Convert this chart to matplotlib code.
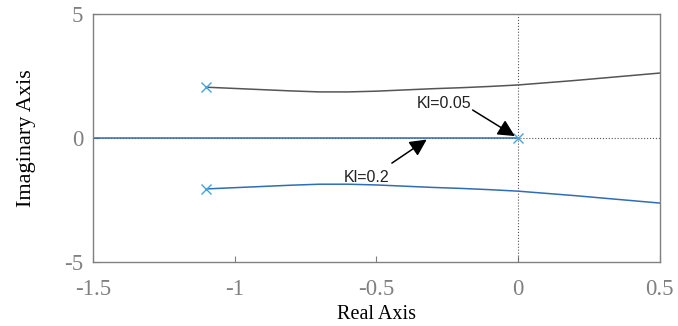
import matplotlib
matplotlib.use("Agg")
import matplotlib.pyplot as plt

plt.rcParams["axes.unicode_minus"] = False

# root locus branches
x_branch = [-1.1, -1.0, -0.9, -0.8, -0.7, -0.6, -0.5, -0.4, -0.3, -0.2, -0.1, 0.0, 0.1, 0.2, 0.3, 0.4, 0.5]
y_upper = [2.05, 2.0, 1.95, 1.9, 1.86, 1.86, 1.89, 1.94, 1.99, 2.03, 2.08, 2.14, 2.23, 2.32, 2.42, 2.52, 2.62]
y_lower = [-v for v in y_upper]
x_real = [-1.5, 0.0]
y_real = [0.0, 0.0]
poles_x = [-1.1, -1.1, 0.0]
poles_y = [2.05, -2.05, 0.0]

grey = "#808080"

fig = plt.figure(figsize=(6.78, 3.26), dpi=100)
ax = fig.add_axes([0.137, 0.196, 0.836, 0.761])

ax.axvline(0, color="#555555", ls=":", lw=0.8)
ax.axhline(0, color="#555555", ls=":", lw=0.8)
ax.plot(x_branch, y_upper, color="#555555", lw=1.1)
ax.plot(x_branch, y_lower, color="#2f6db5", lw=1.1)
ax.plot(x_real, y_real, color="#2f6db5", lw=1.1)
ax.plot(poles_x, poles_y, ls="none", marker="x", color="#4aa3d8", ms=7, mew=1)

arrow = dict(arrowstyle="-|>,head_length=0.6,head_width=0.3", color="black", lw=1.1,
             mutation_scale=17, shrinkA=0, shrinkB=0)
ax.annotate("", xy=(-0.011, 0.08), xytext=(-0.16, 1.13), arrowprops=arrow)
ax.text(-0.262, 1.41, "Kl=0.05", fontsize=11.5, family="Liberation Sans",
        color="#222222", ha="center", va="center")
ax.annotate("", xy=(-0.322, -0.06), xytext=(-0.445, -1.01), arrowprops=arrow)
ax.text(-0.534, -1.57, "Kl=0.2", fontsize=11.5, family="Liberation Sans",
        color="#222222", ha="center", va="center")

ax.set_xlim(-1.5, 0.5)
ax.set_ylim(-5, 5)
ax.set_xticks([-1.5, -1, -0.5, 0, 0.5])
ax.set_xticklabels(["-1.5", "-1", "-0.5", "0", "0.5"])
ax.set_yticks([-5, 0, 5])
ax.tick_params(direction="in", colors=grey, labelcolor=grey, labelsize=16.5,
               length=4, width=0.8, top=False, right=False)
ax.tick_params(axis="x", pad=12)
ax.tick_params(axis="y", pad=7)
for lab in ax.get_xticklabels() + ax.get_yticklabels():
    lab.set_family("Liberation Serif")
for s in ax.spines.values():
    s.set_color(grey)
    s.set_linewidth(1)

ax.set_xlabel("Real Axis", family="Liberation Serif", fontsize=14.5, labelpad=4)
ax.set_ylabel("Imaginary Axis", family="Liberation Serif", fontsize=16, labelpad=20)

fig.savefig("out.png", dpi=100)
